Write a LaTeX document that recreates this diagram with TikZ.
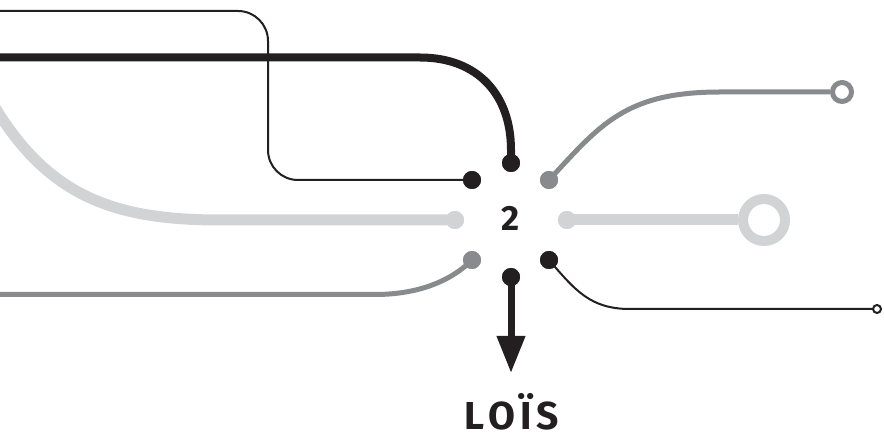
\documentclass[tikz,border=0pt]{standalone}
\usepackage{fontspec}
\setmainfont{Fira Sans}
\usetikzlibrary{arrows.meta}
\definecolor{ink}{HTML}{231F20}
\definecolor{midgray}{HTML}{898A8D}
\definecolor{palegray}{HTML}{D1D3D4}
\begin{document}
\begin{tikzpicture}[x=1pt,y=-1pt,
  dot/.style={circle,fill=#1,inner sep=0pt,minimum size=18pt},
  ringnode/.style={circle,draw=#1,inner sep=0pt,fill=white},
  thickline/.style={ink,line width=8pt},
  thinline/.style={ink,line width=2pt},
  midline/.style={midgray,line width=5pt},
  paleline/.style={palegray,line width=11pt}]
\clip (0,0) rectangle (884,435);
% free ends
\coordinate (e1) at (-5,57.5);
\coordinate (e2) at (-5,11);
\coordinate (e3) at (-30,60);
\coordinate (e4) at (-5,294.5);
\coordinate (tip) at (511,373);
% rings
\node[ringnode=midgray,line width=5pt,minimum size=19pt] (ring1) at (842,92) {};
\node[ringnode=palegray,line width=10pt,minimum size=42pt] (ring2) at (764,220) {};
\node[ringnode=ink,line width=2pt,minimum size=8pt] (ring3) at (877,309) {};
% dots
\node[dot=ink] (t) at (511,163) {};
\node[dot=ink] (ul) at (472,180) {};
\node[dot=midgray] (ur) at (549,180) {};
\node[dot=palegray] (l) at (455,220) {};
\node[dot=palegray] (r) at (567,220) {};
\node[dot=midgray] (ll) at (472,260) {};
\node[dot=ink] (lr) at (549,260) {};
\node[dot=ink] (b) at (511,277) {};
% connectors
\draw[paleline] (e3) .. controls (30,190) and (100,220) .. (220,220) -- (l.center);
\draw[thinline,rounded corners=30pt] (e2) -- (268,11) -- (268,180) -- (ul.center);
\draw[thickline] (e1) -- (420,57.5) .. controls (478,57.5) and (511,95) .. (511,150) -- (t.center);
\draw[midline] (e4) -- (375,294.5) .. controls (420,294.5) and (452,280) .. (ll.center);
\draw[midline] (ur.center) .. controls (600,125) and (625,92) .. (720,92) -- (ring1.west);
\draw[paleline] (r.center) -- (ring2.west);
\draw[thinline] (lr.center) .. controls (575,290) and (590,309) .. (630,309) -- (ring3.west);
\draw[ink,line width=7pt,-{Triangle[length=37pt,width=27pt]}] (b.center) -- (tip);
% redraw dots on top
\foreach \n/\c in {t/ink,ul/ink,ur/midgray,l/palegray,r/palegray,ll/midgray,lr/ink,b/ink}
  \fill[\c] (\n) circle (9pt);
% texts
\node[text=ink,inner sep=0pt,anchor=base,font=\fontsize{35}{35}\selectfont\bfseries] (two) at (511,231) {2};
\node[text=ink,inner sep=0pt,anchor=base,font=\fontsize{39}{39}\selectfont\bfseries] (name) at (511.5,430) {L\kern4.5pt O\kern4.5pt Ï\kern4.5pt S};
\end{tikzpicture}
\end{document}
